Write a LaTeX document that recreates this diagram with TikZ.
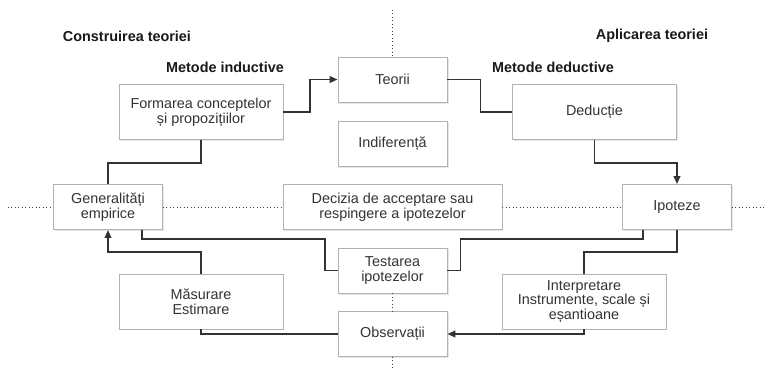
\documentclass[tikz,border=0pt]{standalone}
\usepackage{fontspec}
\setmainfont{Liberation Sans}
\usetikzlibrary{arrows.meta,shadows}

\begin{document}
\begin{tikzpicture}[x=0.75pt,y=0.75pt,yscale=-1,xscale=1,
  every node/.style={font=\fontsize{10.8}{11}\selectfont, text=black!80},
  box/.style={draw=black!30, fill=white, align=center, inner sep=2pt, minimum width=82pt, minimum height=34pt, drop shadow={opacity=0.2, shadow xshift=1pt, shadow yshift=-1pt}},
  widebox/.style={box, minimum width=123pt, minimum height=41pt},
  flow/.style={draw=black!80, line width=1.35pt},
  flowarrow/.style={flow, -{Triangle[length=6pt,width=5pt]}},
  divider/.style={draw=black!75, dotted, line width=0.6pt},
  heading/.style={font=\fontsize{10.8}{11}\selectfont\bfseries, text=black!90}]
\useasboundingbox (0,0) rectangle (768,371);

%Headings
\node[heading] (build) at (127,36) {Construirea teoriei};
\node[heading] (apply) at (652,36) {Aplicarea teoriei};
\node[heading] (induct) at (225,67) {Metode inductive};
\node[heading] (deduct) at (553,67) {Metode deductive};

%Boxes
\node[box] (teorii) at (392.5,79.5) {Teorii};
\node[box] (indif) at (392.5,143.5) {Indiferență};
\node[widebox] (form) at (201,112) {Formarea conceptelor\\ și propozițiilor};
\node[widebox] (deduc) at (594.5,112) {Deducție};
\node[box] (gen) at (108,207) {Generalități\\empirice};
\node[box, minimum width=164.25pt] (decizia) at (392.5,207) {Decizia de acceptare sau\\respingere a ipotezelor};
\node[box] (ipo) at (677,207) {Ipoteze};
\node[box] (test) at (392.5,270.5) {Testarea\\ipotezelor};
\node[box] (obs) at (392.5,334) {Observații};
\node[widebox] (masur) at (201,301.5) {Măsurare\\Estimare};
\node[widebox] (interp) at (584,301.5) {Interpretare\\Instrumente, scale și\\eșantioane};

%Dotted axes
\coordinate (axtop) at (392.5,10);
\coordinate (axbot) at (392.5,371);
\coordinate (axleft) at (8,207);
\coordinate (axright) at (766,207);
\draw[divider] (axtop) -- (teorii.north);
\draw[divider] (test.south) -- (obs.north);
\draw[divider] (obs.south) -- (axbot);
\draw[divider] (axleft) -- (gen.west);
\draw[divider] (gen.east) -- (decizia.west);
\draw[divider] (decizia.east) -- (ipo.west);
\draw[divider] (ipo.east) -- (axright);

%Flow lines
\draw[flowarrow] (form.east) -- ++(27,0) |- (teorii.west);
\draw[flow] (teorii.east) -- ++(33,0) |- (deduc.west);
\draw[flowarrow] (deduc.south) -- ++(0,23) -| (ipo.north);
\draw[flow] (form.south) -- ++(0,23) -| (gen.north);
\draw[flowarrow] (masur.north) -- ++(0,-22) -| (gen.south);
\draw[flow] ([xshift=25.5pt]gen.south) -- ++(0,9) -- ++(183,0) |- (test.west);
\draw[flow] (test.east) -- ++(13,0) -- ++(0,-31.5) -| ([xshift=-25.5pt]ipo.south);
\draw[flow] (ipo.south) -- ++(0,22) -| (interp.north);
\draw[flowarrow] (interp.south) |- (obs.east);
\draw[flow] (obs.west) -| (masur.south);
\end{tikzpicture}
\end{document}
